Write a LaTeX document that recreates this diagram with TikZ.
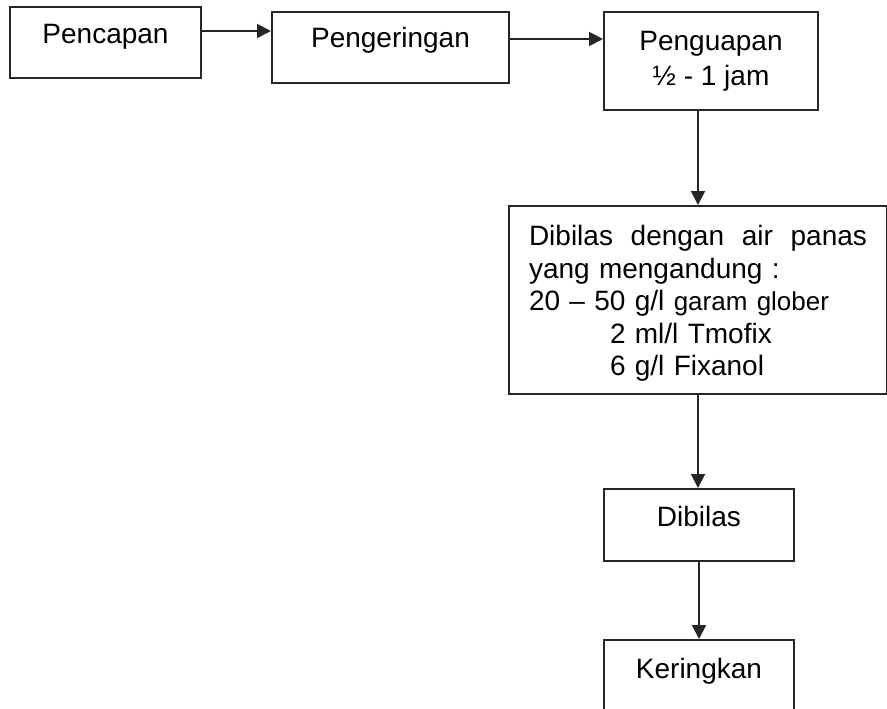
\documentclass[tikz,border=0pt]{standalone}
\usepackage{fontspec}
\setmainfont{Liberation Sans}
\usetikzlibrary{arrows.meta}
\begin{document}
\begin{tikzpicture}[x=1pt,y=-1pt,
  box/.style={draw=black!85, line width=2pt, rectangle, inner sep=0pt,
    font=\fontsize{28}{35}\selectfont, anchor=north west},
  arr/.style={draw=black!85, line width=2pt, -{Triangle[length=14pt,width=14pt]}}]
\clip (0,0) rectangle (887,709);
\fill[white] (0,0) rectangle (887,709);

\node[box, minimum width=191pt, text height=37pt, text depth=34pt] (pencapan) at (9,6) {Pencapan};
\node[box, minimum width=237pt, text height=36pt, text depth=35pt] (pengeringan) at (271,11) {Pengeringan};
\node[box, minimum width=214pt, minimum height=98pt, align=center] (penguapan) at (603,11) {Penguapan\\½ - 1 jam};
\node[box, minimum width=378pt, minimum height=188pt, text width=338pt, align=left,
  font=\fontsize{28}{32.5}\selectfont] (rinse) at (508,205)
  {\rule{0pt}{27pt}\makebox[338pt][s]{Dibilas\hfill dengan\hfill air\hfill panas}\\
   yang mengandung :\\
   20 – 50 g/l {\fontsize{26}{32.5}\selectfont garam glober}\\
   \hspace*{81pt}2 ml/l Tmofix\\
   \hspace*{81pt}6 g/l Fixanol};
\node[box, minimum width=190pt, text height=37pt, text depth=35pt] (dibilas) at (603,488) {Dibilas};
\node[box, minimum width=190pt, text height=38pt, text depth=34pt] (keringkan) at (603,639) {Keringkan};

\coordinate (a1s) at ([yshift=11.5pt]pencapan.east);
\coordinate (a2s) at ([yshift=8.5pt]pengeringan.east);
\draw[arr] (a1s) -- (a1s -| pengeringan.west);
\draw[arr] (a2s) -- (a2s -| penguapan.west);
\draw[arr] (penguapan.south -| rinse.north) -- (rinse.north);
\draw[arr] (rinse.south) -- (rinse.south |- dibilas.north);
\draw[arr] (dibilas.south) -- (keringkan.north);
\end{tikzpicture}
\end{document}
